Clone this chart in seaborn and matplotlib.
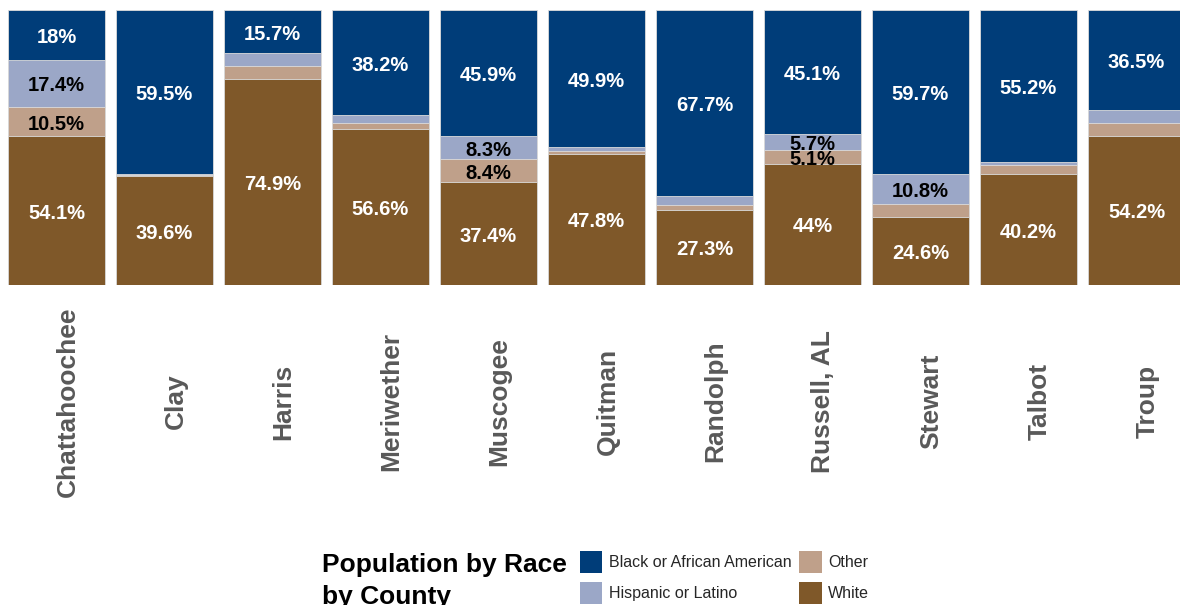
import numpy as np
import pandas as pd
import matplotlib
matplotlib.use("Agg")
import matplotlib.pyplot as plt
import matplotlib.transforms as mtransforms
from matplotlib.patches import Patch
import seaborn as sns

# Share of population by race, percent, per county
counties = ["Chattahoochee", "Clay", "Harris", "Meriwether", "Muscogee", "Quitman",
            "Randolph", "Russell, AL", "Stewart", "Talbot", "Troup"]
white = [54.1, 39.6, 74.9, 56.6, 37.4, 47.8, 27.3, 44.0, 24.6, 40.2, 54.2]
other = [10.5, 0.4, 4.6, 2.3, 8.4, 1.0, 1.7, 5.1, 4.9, 3.4, 4.7]
hispanic = [17.4, 0.5, 4.8, 2.9, 8.3, 1.3, 3.3, 5.7, 10.8, 1.2, 4.6]
black = [18.0, 59.5, 15.7, 38.2, 45.9, 49.9, 67.7, 45.1, 59.7, 55.2, 36.5]

series_names = ["Black or African American", "Hispanic or Latino", "Other", "White"]
colors = {
    "Black or African American": "#003d79",
    "Hispanic or Latino": "#9ba7c7",
    "Other": "#bfa08a",
    "White": "#7f5829",
}

sns.set_style("white")
plt.rcParams["font.family"] = ["Liberation Sans", "DejaVu Sans"]

df = pd.DataFrame({"county": counties, "White": white, "Other": other,
                   "Hispanic or Latino": hispanic, "Black or African American": black})
df["c_white"] = df["White"]
df["c_other"] = df["c_white"] + df["Other"]
df["c_hisp"] = df["c_other"] + df["Hispanic or Latino"]
df["c_black"] = df["c_hisp"] + df["Black or African American"]

W, H = 1180, 605
fig = plt.figure(figsize=(W / 100, H / 100), dpi=100)
ax = fig.add_axes([2.5 / W, 1 - 285 / H, 1188 / W, 275 / H])

bar_w = 0.903
# stacked bars: draw cumulative totals from the top segment down
for col, name in [("c_black", "Black or African American"),
                  ("c_hisp", "Hispanic or Latino"),
                  ("c_other", "Other"),
                  ("c_white", "White")]:
    sns.barplot(data=df, x="county", y=col, color=colors[name], width=bar_w,
                errorbar=None, edgecolor="#dcdcdc", linewidth=0.6, saturation=1,
                ax=ax)

# segment value labels
text_col = {"Black or African American": "white", "Hispanic or Latino": "black",
            "Other": "black", "White": "white"}
drop = ax.transData + mtransforms.ScaledTranslation(0, -2.5 / 100, fig.dpi_scale_trans)
for i in range(len(counties)):
    base = 0.0
    for name in ["White", "Other", "Hispanic or Latino", "Black or African American"]:
        v = df.loc[i, name]
        if v >= 5:
            ax.text(i, base + v / 2, f"{v:g}%", ha="center", va="center",
                    fontsize=14.5, fontweight="bold", color=text_col[name],
                    transform=drop)
        base += v

ax.set_xlim(-0.5, len(counties) - 0.5)
ax.set_ylim(0, 100)
ax.set_xlabel("")
ax.set_ylabel("")
ax.set_yticks([])
for s in ax.spines.values():
    s.set_visible(False)

ax.tick_params(axis="x", length=0, pad=84)
ax.set_xticks(range(len(counties)))
ax.set_xticklabels(counties, rotation=90, fontsize=19, fontweight="bold",
                   color="#595959", va="center", ha="center")
shift = mtransforms.ScaledTranslation(11 / 100, 0, fig.dpi_scale_trans)
for lab in ax.get_xticklabels():
    lab.set_transform(lab.get_transform() + shift)

# legend with its heading on the left
fig.text(322 / W, 1 - 572 / H, "Population by Race", fontsize=19,
         fontweight="bold", color="black", ha="left", va="baseline")
fig.text(322 / W, 1 - 604 / H, "by County", fontsize=19,
         fontweight="bold", color="black", ha="left", va="baseline")
handles = [Patch(facecolor=colors[n], edgecolor="none") for n in series_names]
fig.legend(handles, series_names, loc="upper left",
           bbox_to_anchor=(580 / W, 1 - 551 / H), ncol=2, frameon=False,
           fontsize=11.5, handlelength=1.4, handleheight=1.75, handletextpad=0.4,
           columnspacing=0.5, labelspacing=0.54, borderpad=0, borderaxespad=0,
           labelcolor="#262626")

fig.savefig("out.png", dpi=100)
